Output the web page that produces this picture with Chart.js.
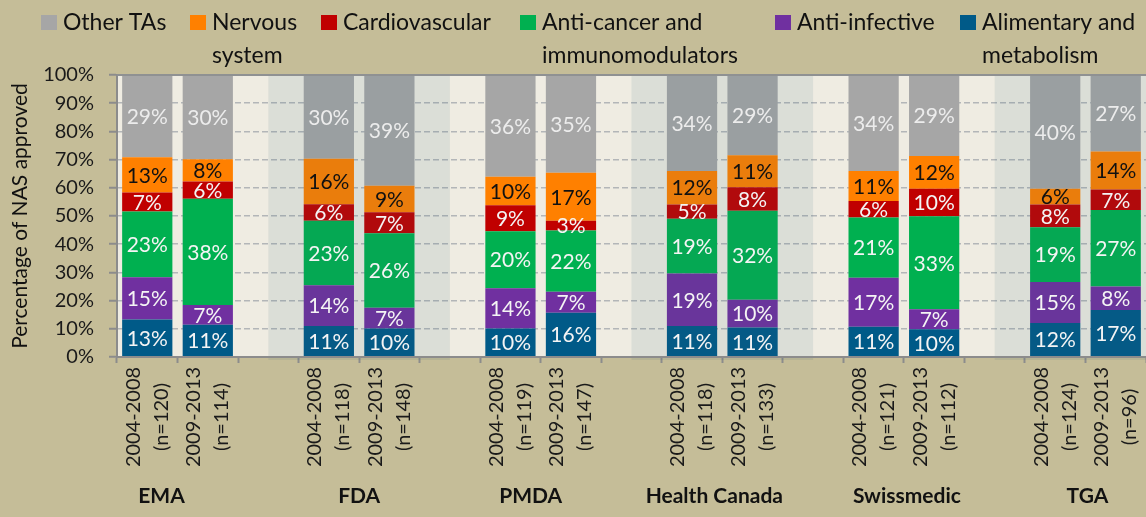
<!DOCTYPE html>
<html><head><meta charset="utf-8">
<script src="https://cdn.jsdelivr.net/npm/chart.js@4.4.1/dist/chart.umd.min.js"></script>
<style>html,body{margin:0;padding:0;background:#c5bd98;}canvas{display:block;}</style>
</head><body>
<canvas id="c" width="1146" height="517"></canvas>
<script>
// ---- data ----
const categories = [
  ['2004-2008','(n=120)'], ['2009-2013','(n=114)'], '',
  ['2004-2008','(n=118)'], ['2009-2013','(n=148)'], '',
  ['2004-2008','(n=119)'], ['2009-2013','(n=147)'], '',
  ['2004-2008','(n=118)'], ['2009-2013','(n=133)'], '',
  ['2004-2008','(n=121)'], ['2009-2013','(n=112)'], '',
  ['2004-2008','(n=124)'], ['2009-2013','(n=96)']
];
const agencies = ['EMA','FDA','PMDA','Health Canada','Swissmedic','TGA'];
const seriesNames = ['Alimentary and\nmetabolism','Anti-infective','Anti-cancer and\nimmunomodulators','Cardiovascular','Nervous\nsystem','Other TAs'];
const alimentary    = [13.3, 11.4, null, 11.0, 10.1, null, 10.1, 15.7, null, 11.0, 10.5, null, 10.7,  9.8, null, 12.1, 16.7];
const antiInfective = [15.0,  7.0, null, 14.4,  7.4, null, 14.3,  7.4, null, 18.6,  9.8, null, 17.4,  7.1, null, 14.5,  8.3];
const antiCancer    = [23.3, 37.7, null, 22.9, 26.4, null, 20.2, 21.8, null, 19.4, 31.6, null, 21.4, 33.0, null, 19.4, 27.1];
const cardio        = [ 6.7,  6.1, null,  5.9,  7.4, null,  9.2,  3.4, null,  5.1,  8.3, null,  5.8,  9.8, null,  8.1,  7.3];
const nervous       = [12.5,  7.9, null, 16.1,  9.4, null, 10.1, 17.0, null, 11.9, 11.3, null, 10.7, 11.6, null,  5.6, 13.5];
const otherTAs      = [29.2, 29.9, null, 29.7, 39.3, null, 36.1, 34.7, null, 34.0, 28.5, null, 34.0, 28.7, null, 40.3, 27.1];
const yTicks = [0,10,20,30,40,50,60,70,80,90,100];

// ---- styles ----
const seriesColors = ['#005a88','#7030a0','#00b050','#c00000','#ff8000','#a6a6a6'];
const labelColors  = ['#f4f4f4','#f4f4f4','#f4f4f4','#f4f4f4','#111111','#ececec'];
const FONT = 'Lato';
const pageBg = '#c5bd98', plotBg = '#efece2', bandColor = 'rgba(50,100,120,0.10)';
const legendX = [41,190,321,520,775,960];
const agencyNudge = [-16,0,-10,-8,3,2];

const seriesData = [alimentary, antiInfective, antiCancer, cardio, nervous, otherTAs];

const decoPlugin = {
  id: 'deco',
  beforeDraw(chart) {
    const {ctx, chartArea: a} = chart;
    ctx.save();
    ctx.fillStyle = pageBg; ctx.fillRect(0, 0, chart.width, chart.height);
    ctx.fillStyle = plotBg; ctx.fillRect(a.left, a.top, a.right - a.left, a.bottom - a.top);
    ctx.restore();
  },
  afterDatasetsDraw(chart) {
    const {ctx, chartArea: a, scales: {x}} = chart;
    ctx.save();
    // shaded bands for alternate agencies
    ctx.fillStyle = bandColor;
    for (let g = 1; g < agencies.length; g += 2) {
      const x0 = x.getPixelForValue(3 * g - 1);
      const x1 = (3 * g + 2 < categories.length) ? x.getPixelForValue(3 * g + 2) : a.right;
      ctx.fillRect(x0, a.top - 1, x1 - x0, a.bottom - a.top + 4);
    }
    // top frame line
    ctx.strokeStyle = '#8f9192'; ctx.lineWidth = 2;
    ctx.beginPath(); ctx.moveTo(a.left, a.top); ctx.lineTo(a.right, a.top); ctx.stroke();
    // data labels
    ctx.font = '21px ' + FONT;
    ctx.textAlign = 'center'; ctx.textBaseline = 'middle';
    chart.data.datasets.forEach((ds, di) => {
      const meta = chart.getDatasetMeta(di);
      meta.data.forEach((el, i) => {
        const v = ds.data[i];
        if (v == null) return;
        ctx.fillStyle = labelColors[di];
        ctx.fillText(Math.round(v) + '%', el.x, (el.y + el.base) / 2 + 1);
      });
    });
    ctx.restore();
  },
  afterDraw(chart) {
    const {ctx, chartArea: a, scales: {x}} = chart;
    ctx.save();
    // legend (reverse order of stacking)
    ctx.font = '23px ' + FONT;
    ctx.textAlign = 'left'; ctx.textBaseline = 'alphabetic';
    const order = [5,4,3,2,1,0];
    order.forEach((di, k) => {
      const lx = legendX[k];
      ctx.fillStyle = seriesColors[di];
      ctx.fillRect(lx, 15, 16, 15);
      ctx.fillStyle = '#111111';
      chart.data.datasets[di].label.split('\n').forEach((line, li) => {
        ctx.fillText(line, lx + 22, 30 + li * 33);
      });
    });
    // rotated category labels
    ctx.font = '20px ' + FONT;
    ctx.fillStyle = '#1a1a1a';
    ctx.textAlign = 'center'; ctx.textBaseline = 'middle';
    chart.data.labels.forEach((lab, i) => {
      if (!Array.isArray(lab)) return;
      const cx = x.getPixelForValue(i);
      ctx.save();
      ctx.translate(cx, a.bottom + 60);
      ctx.rotate(-Math.PI / 2);
      ctx.fillText(lab[0], 0, -14);
      ctx.fillText(lab[1], 0, 14);
      ctx.restore();
    });
    // agency labels
    ctx.font = 'bold 21px ' + FONT;
    ctx.fillStyle = '#111111';
    ctx.textAlign = 'center'; ctx.textBaseline = 'alphabetic';
    agencies.forEach((ag, g) => {
      const cx = (x.getPixelForValue(3 * g) + x.getPixelForValue(3 * g + 1)) / 2 + agencyNudge[g];
      ctx.fillText(ag, cx, a.bottom + 146);
    });
    ctx.restore();
  }
};

new Chart(document.getElementById('c'), {
  type: 'bar',
  data: {
    labels: categories,
    datasets: seriesData.map((d, i) => ({
      label: seriesNames[i], data: d, backgroundColor: seriesColors[i],
      borderWidth: 0, barPercentage: 0.83, categoryPercentage: 1.0
    }))
  },
  options: {
    responsive: false, animation: false, devicePixelRatio: 1,
    layout: { padding: { top: 75, left: 0, right: 0, bottom: 0 } },
    plugins: { legend: { display: false }, tooltip: { enabled: false } },
    scales: {
      x: {
        stacked: true,
        afterFit(s) { s.height = 160; },
        ticks: { display: false },
        grid: { display: true, drawOnChartArea: false, drawTicks: true, tickLength: 6, tickColor: '#8c8c8c', tickWidth: 2, offset: true },
        border: { display: true, color: '#8c8c8c', width: 2, z: 1 }
      },
      y: {
        stacked: true, min: 0, max: 100,
        afterFit(s) { s.width = 117; },
        afterBuildTicks(s) { s.ticks = yTicks.map(v => ({ value: v })); },
        ticks: { stepSize: 10, padding: 15, color: '#1a1a1a', font: { family: FONT, size: 20 }, callback: v => v + '%' },
        grid: { color: '#b3b6b8', lineWidth: 1.5, tickColor: '#8c8c8c', tickLength: 8, tickWidth: 2, tickBorderDash: [] },
        border: { display: true, color: '#8c8c8c', width: 2, dash: [6, 3] },
        title: { display: true, text: 'Percentage of NAS approved', color: '#111111', font: { family: FONT, size: 21 }, padding: { top: 8, bottom: 0 } }
      }
    }
  },
  plugins: [decoPlugin]
});
</script>
</body></html>
